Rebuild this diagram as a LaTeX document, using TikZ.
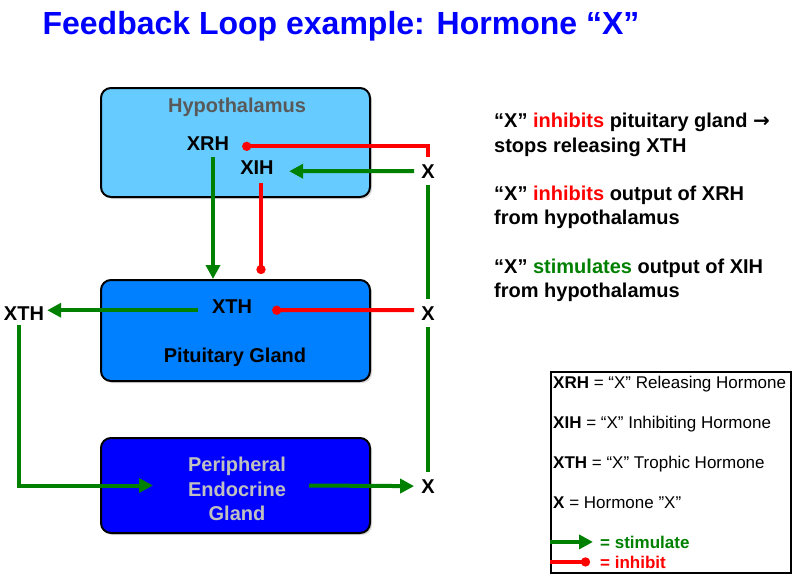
\documentclass[tikz,border=0pt]{standalone}
\usepackage{fontspec}
\setmainfont{Liberation Sans}
\newfontfamily\arrowfont{DejaVu Sans}
\usetikzlibrary{arrows.meta,shadows}

\definecolor{hypfill}{HTML}{66CCFF}
\definecolor{pitfill}{HTML}{0080FF}
\definecolor{perfill}{HTML}{0000FF}
\definecolor{hyptext}{HTML}{595959}
\definecolor{pertext}{HTML}{C0C0C0}
\definecolor{stimgreen}{HTML}{008000}
\definecolor{inhred}{HTML}{FF0000}

\tikzset{
  gland/.style={draw,line width=2pt,rounded corners=10pt,minimum width=269pt,
    drop shadow={shadow xshift=2pt,shadow yshift=-2pt,opacity=0.3}},
  lbl/.style={anchor=base,font=\fontsize{20}{24.5}\selectfont\bfseries},
  note/.style={anchor=base west,font=\fontsize{20}{24}\selectfont\bfseries},
  key/.style={anchor=base west,font=\fontsize{17}{20}\selectfont},
  feed/.style={draw=stimgreen,line width=4pt},
  stim/.style={feed,-{Triangle[length=14pt,width=14pt]}},
  inh/.style={draw=inhred,line width=4pt,-{Circle[length=9pt]}}
}

\begin{document}
\begin{tikzpicture}[x=1pt,y=-1pt,every node/.style={inner sep=0pt}]
\useasboundingbox (0,0) rectangle (800,582);

\node[anchor=base,font=\fontsize{32}{38}\selectfont\bfseries,text=perfill] (title) at (341,34)
  {Feedback Loop example: Hormone “X”};

% glands
\node[gland,fill=hypfill,minimum height=109pt] (hbox) at (235.5,142.5) {};
\node[gland,fill=pitfill,minimum height=101pt] (pbox) at (235.5,330.5) {};
\node[gland,fill=perfill,minimum height=95pt] (ebox) at (235.5,485.5) {};
\node[lbl,text=hyptext] (hyplbl) at (237,112) {Hypothalamus};
\node[lbl] (pitlbl) at (235,362) {Pituitary Gland};
\node[lbl,anchor=center,align=center,text=pertext] (perlbl) at (237,489)
  {Peripheral\\Endocrine\\Gland};

% hormones
\node[lbl] (xrh) at (208,150) {XRH};
\node[lbl] (xih) at (257,174) {XIH};
\node[lbl] (xtha) at (232,313) {XTH};
\node[lbl] (xthl) at (24,320) {XTH};
\foreach \n/\y in {a/178,b/320,c/493}
  \node[lbl,inner sep=7pt] (x\n) at (428,\y) {X};

% feedback
\draw[feed] (xa.south) -- (xb.north) (xb.south) -- (xc.north);
\draw[inh] (xa.north) |- ([xshift=12.9pt,yshift=-3.2pt]xrh.east);
\draw[stim] (xa.west) -- ([xshift=15.3pt,yshift=-4.1pt]xih.east);
\draw[stim] ([xshift=5pt,yshift=-7pt]xrh.south) -- ([xshift=-22.5pt]pbox.north);
\draw[inh] ([xshift=4pt,yshift=-9pt]xih.south) -- ([xshift=25.5pt,yshift=5pt]pbox.north);
\draw[inh] ([yshift=3pt]xb.west) -- ([xshift=20pt,yshift=-4.1pt]xtha.east);
\draw[stim] ([xshift=-14pt,yshift=-4.1pt]xtha.west) -- ([xshift=3pt,yshift=2.9pt]xthl.east);
\draw[stim] ([xshift=-5pt,yshift=-5pt]xthl.south) |- ([xshift=-82.5pt]ebox.center);
\draw[stim] ([xshift=73.5pt]ebox.center) -- (xc.west);

% notes
\foreach \n/\y/\t in {1/127/{“X” \textcolor{inhred}{inhibits} pituitary gland {\arrowfont\bfseries →}},
    2/152/{stops releasing XTH},
    3/200/{“X” \textcolor{inhred}{inhibits} output of XRH},
    4/224/{from hypothalamus},
    5/273/{“X” \textcolor{stimgreen}{stimulates} output of XIH},
    6/297/{from hypothalamus}}
  \node[note] (note\n) at (494,\y) {\t};

% legend
\node[draw,line width=1.5pt,minimum width=240pt,minimum height=201pt] (legend) at (671,472.5) {};
\foreach \n/\y/\k/\t in {1/388/XRH/{“X” Releasing Hormone},
    2/428/XIH/{“X” Inhibiting Hormone},
    3/468/XTH/{“X” Trophic Hormone},
    4/508/X/{Hormone ”X”}}
  \node[key] (key\n) at (553,\y) {\textbf{\k} = \t};
\node[key,font=\fontsize{17}{20}\selectfont\bfseries,text=stimgreen] (keystim) at (600,548) {= stimulate};
\node[key,font=\fontsize{17}{20}\selectfont\bfseries,text=inhred] (keyinh) at (600,568) {= inhibit};
\draw[stim] ([xshift=-50pt]keystim.west) -- ([xshift=-7pt]keystim.west);
\draw[inh] ([xshift=-50pt]keyinh.west) -- ([xshift=-10pt]keyinh.west);
\end{tikzpicture}
\end{document}
